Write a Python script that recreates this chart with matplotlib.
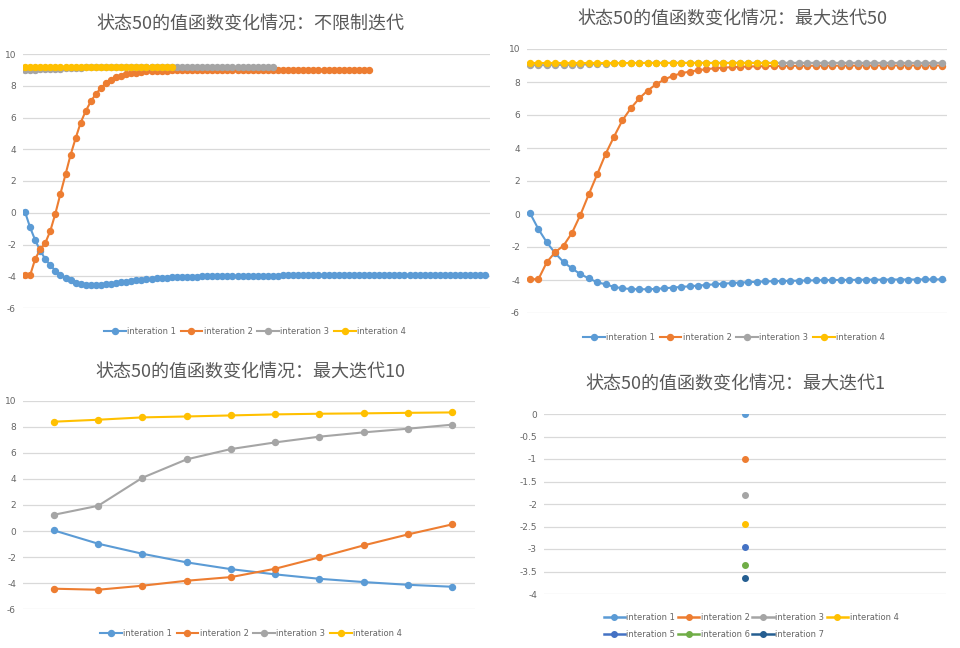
import matplotlib
matplotlib.use("Agg")
import matplotlib.pyplot as plt
from matplotlib.ticker import FuncFormatter, MultipleLocator

plt.rcParams['font.family'] = ['Noto Sans CJK SC', 'DejaVu Sans']

# ---------------- data ----------------
titles = ["状态50的值函数变化情况：不限制迭代",
          "状态50的值函数变化情况：最大迭代50",
          "状态50的值函数变化情况：最大迭代10",
          "状态50的值函数变化情况：最大迭代1"]
series_names = ["interation 1", "interation 2", "interation 3", "interation 4",
                "interation 5", "interation 6", "interation 7"]
colors = ["#5B9BD5", "#ED7D31", "#A5A5A5", "#FFC000", "#4472C4", "#70AD47", "#255E91"]

# chart 1: unlimited sweeps
c1_it1 = [0.05, -0.92, -1.72, -2.38, -2.92, -3.30, -3.65, -3.90, -4.14, -4.26,
          -4.42, -4.50, -4.55, -4.56, -4.56, -4.54, -4.50, -4.46, -4.42, -4.38,
          -4.34, -4.30, -4.26, -4.22, -4.19, -4.16, -4.13, -4.11, -4.09, -4.07,
          -4.06, -4.05, -4.04, -4.03, -4.02, -4.01, -4.00, -4.00, -3.99, -3.99,
          -3.98, -3.98, -3.98, -3.97, -3.97, -3.97, -3.97, -3.96, -3.96, -3.96,
          -3.96, -3.95, -3.95, -3.95, -3.95, -3.95, -3.94, -3.94, -3.94, -3.94,
          -3.94, -3.94, -3.93, -3.93, -3.93, -3.93, -3.93, -3.93, -3.93, -3.93,
          -3.92, -3.92, -3.92, -3.92, -3.92, -3.92, -3.92, -3.92, -3.92, -3.92,
          -3.92, -3.92, -3.92, -3.92, -3.92, -3.92, -3.92, -3.92, -3.92, -3.92,
          -3.92, -3.92]
c1_it2 = [-3.95, -3.95, -2.92, -2.31, -1.91, -1.14, -0.05, 1.20, 2.41, 3.64,
          4.69, 5.68, 6.41, 7.01, 7.48, 7.86, 8.16, 8.37, 8.53, 8.63,
          8.71, 8.78, 8.83, 8.87, 8.90, 8.92, 8.94, 8.95, 8.96, 8.97,
          8.97, 8.98, 8.98, 8.98, 8.99, 8.99, 8.99, 8.99, 8.99, 9.00,
          9.00, 9.00, 9.00, 9.00, 9.00, 9.00, 9.00, 9.00, 9.00, 9.00,
          9.00, 9.00, 9.00, 9.00, 9.00, 9.00, 9.00, 9.00, 9.00, 9.00,
          9.00, 9.00, 9.00, 9.00, 9.00, 9.00, 9.00, 9.00, 9.00]
c1_it3 = [9.02, 9.02, 9.02, 9.03, 9.03, 9.04, 9.05, 9.07, 9.09, 9.11,
          9.13, 9.14, 9.15, 9.15, 9.16, 9.16, 9.16, 9.16, 9.16, 9.16,
          9.16, 9.16, 9.16, 9.16, 9.16, 9.16, 9.16, 9.16, 9.16, 9.16,
          9.16, 9.16, 9.16, 9.16, 9.16, 9.16, 9.16, 9.16, 9.16, 9.16,
          9.16, 9.16, 9.16, 9.16, 9.16, 9.16, 9.16, 9.16, 9.16, 9.16]
c1_it4 = [9.17, 9.17, 9.17, 9.17, 9.17, 9.17, 9.17, 9.17, 9.17, 9.17,
          9.17, 9.17, 9.17, 9.17, 9.17, 9.17, 9.17, 9.17, 9.17, 9.17,
          9.17, 9.17, 9.17, 9.17, 9.17, 9.17, 9.17, 9.17, 9.17, 9.17]

# chart 2: max 50 sweeps
c2_it1 = c1_it1[:50]
c2_it2 = c1_it2[:50]
c2_it3 = c1_it3[:50]
c2_it4 = c1_it4[:30]

# chart 3: max 10 sweeps
c3_it1 = [0.05, -0.97, -1.74, -2.40, -2.92, -3.32, -3.66, -3.91, -4.12, -4.27]
c3_it2 = [-4.42, -4.50, -4.19, -3.81, -3.53, -2.89, -2.02, -1.10, -0.26, 0.51]
c3_it3 = [1.25, 1.94, 4.09, 5.50, 6.29, 6.80, 7.24, 7.57, 7.85, 8.16]
c3_it4 = [8.39, 8.54, 8.72, 8.79, 8.87, 8.95, 9.00, 9.03, 9.07, 9.10]

# chart 4: max 1 sweep (one value per iteration)
c4_vals = [0.01, -0.99, -1.79, -2.44, -2.95, -3.35, -3.64]

# ---------------- figure ----------------
W, H = 960, 648
fig = plt.figure(figsize=(W / 100, H / 100), dpi=100)
fig.patch.set_facecolor("white")

TXT = "#595959"
GRID = "#D9D9D9"


def axes_px(x0, y_top, x1, y_bot):
    return fig.add_axes([x0 / W, 1 - y_bot / H, (x1 - x0) / W, (y_bot - y_top) / H])


def style(ax, ymin, ymax, step):
    ax.set_ylim(ymin, ymax)
    ax.yaxis.set_major_locator(MultipleLocator(step))
    ax.yaxis.set_major_formatter(FuncFormatter(lambda v, p: "%g" % round(v, 2)))
    ax.grid(axis="y", color=GRID, lw=0.9)
    ax.set_axisbelow(True)
    for s in ax.spines.values():
        s.set_visible(False)
    ax.set_xticks([])
    ax.tick_params(axis="y", length=0, pad=5, labelsize=6.5, labelcolor="#666666")
    for lbl in ax.get_yticklabels():
        lbl.set_fontfamily(["DejaVu Sans"])


def line_series(ax, data_list, ms=4.2, lw=1.5):
    handles = []
    for i, d in enumerate(data_list):
        h, = ax.plot(range(len(d)), d, color=colors[i], lw=lw, marker="o",
                     ms=ms, mec=colors[i], mfc=colors[i], label=series_names[i],
                     solid_joinstyle="round")
        handles.append(h)
    return handles


LEG_PROP = {"family": ["DejaVu Sans"], "size": 6}


def legend(handles, cx, cy, ncol=4):
    return fig.legend(handles=handles, loc="center", bbox_to_anchor=(cx / W, 1 - cy / H),
                      ncol=ncol, frameon=False, handlelength=2.6,
                      handletextpad=0.15, columnspacing=0.6, labelcolor="#666666",
                      prop=LEG_PROP)


# chart 1
ax1 = axes_px(23, 54, 490, 308)
h1 = line_series(ax1, [c1_it1, c1_it2, c1_it3, c1_it4], ms=4.3)
ax1.set_xlim(-0.4, 91.9)
style(ax1, -6, 10, 2)
legend(h1, 255, 331)
fig.text(250 / W, 1 - 25 / H, titles[0], ha="center", va="center", fontsize=13, color=TXT)

# chart 2
ax2 = axes_px(527, 49, 947, 313)
h2 = line_series(ax2, [c2_it1, c2_it2, c2_it3, c2_it4], ms=4.3)
ax2.set_xlim(-0.36, 49.63)
style(ax2, -6, 10, 2)
legend(h2, 734, 337)
fig.text(732 / W, 1 - 20 / H, titles[1], ha="center", va="center", fontsize=13, color=TXT)

# chart 3
ax3 = axes_px(23, 400.7, 475, 609.3)
h3 = line_series(ax3, [c3_it1, c3_it2, c3_it3, c3_it4], ms=4.3)
ax3.set_xlim(-0.7, 9.52)
style(ax3, -6, 10, 2)
legend(h3, 251, 633)
fig.text(250 / W, 1 - 373 / H, titles[2], ha="center", va="center", fontsize=13, color=TXT)

# chart 4
ax4 = axes_px(544, 414, 946, 594)
h4 = []
for i, v in enumerate(c4_vals):
    h, = ax4.plot([0], [v], color=colors[i], lw=1.8, marker="o", ms=4.0,
                  mec=colors[i], mfc=colors[i], label=series_names[i])
    h4.append(h)
ax4.set_xlim(-0.5, 0.5)
style(ax4, -4, 0, 0.5)
# reorder so the legend fills row by row (4 per row)
order = [0, 4, 1, 5, 2, 6, 3]
fig.legend(handles=[h4[k] for k in order], loc="upper left",
           bbox_to_anchor=(596 / W, 1 - 605 / H),
           ncol=4, frameon=False, handlelength=2.6, handletextpad=0.15,
           columnspacing=0.3, labelcolor="#666666", labelspacing=1.0,
           prop=LEG_PROP)
fig.text(735 / W, 1 - 385 / H, titles[3], ha="center", va="center", fontsize=13, color=TXT)

fig.savefig("out.png", dpi=100, facecolor="white")
